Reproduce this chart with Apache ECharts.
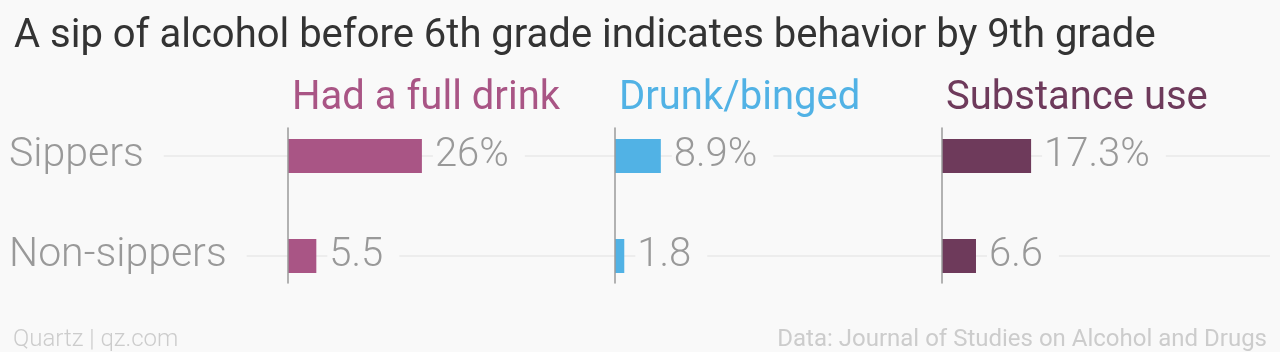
<!DOCTYPE html>
<html>
<head>
<meta charset="utf-8">
<script src="https://cdn.jsdelivr.net/npm/echarts@6/dist/echarts.min.js"></script>
<style>
  html, body { margin: 0; padding: 0; background: #f9f9f9; }
  #chart { width: 1280px; height: 352px; }
</style>
</head>
<body>
<div id="chart"></div>
<script>
// data
const categories = ['Sippers', 'Non-sippers'];
const panelTitles = ['Had a full drink', 'Drunk/binged', 'Substance use'];
const fullDrink = [26, 5.5];
const drunkBinged = [8.9, 1.8];
const substanceUse = [17.3, 6.6];

const panelData = [fullDrink, drunkBinged, substanceUse];
const panelColors = ['#a95585', '#51b2e5', '#6e3a5b'];
const panelLeft = [288, 615, 942];
const FONT = 'Roboto, "Noto Sans", sans-serif';

const grids = [{left: 163, right: 10, top: 156, height: 100}];
const xAxes = [{gridIndex: 0, type: 'value', show: false, min: 0, max: 1}];
const yAxes = [
    // gridlines behind everything
    {gridIndex: 0, type: 'category', data: categories, inverse: true, boundaryGap: false, z: 0,
        position: 'left',
        axisLine: {show: false}, axisTick: {show: false}, axisLabel: {show: false},
        splitLine: {show: true, lineStyle: {color: '#e9e9e9', width: 1.5}}},
    // row labels, drawn over the gridlines
    {gridIndex: 0, type: 'category', data: categories, inverse: true, boundaryGap: false, z: 5,
        position: 'left', offset: 0,
        axisLine: {show: false}, axisTick: {show: false}, splitLine: {show: false},
        axisLabel: {interval: 0, align: 'left', margin: 154, fontSize: 41, fontWeight: 300,
            fontFamily: FONT, color: '#999', backgroundColor: '#f9f9f9', padding: [0, 20, 0, 0]}}
];

// bar grids
panelLeft.forEach((left, i) => {
    grids.push({left: left, width: 309, top: 106, height: 200});
    xAxes.push({gridIndex: i + 1, type: 'value', min: 0, max: 60, show: false});
    yAxes.push({gridIndex: i + 1, type: 'category', data: categories, inverse: true, show: false});
});
// vertical axis lines (shorter than the bar grid)
panelLeft.forEach((left, i) => {
    grids.push({left: left, width: 309, top: 128, height: 155});
    xAxes.push({gridIndex: i + 4, type: 'value', min: 0, max: 1, show: false});
    yAxes.push({gridIndex: i + 4, type: 'value', min: 0, max: 1, z: 3, position: 'left',
        axisLine: {show: true, onZero: false, lineStyle: {color: '#9a9a9a', width: 1.5}},
        axisTick: {show: false}, axisLabel: {show: false}, splitLine: {show: false}});
});

const series = panelData.map((values, i) => ({
    type: 'bar',
    name: panelTitles[i],
    xAxisIndex: i + 1,
    yAxisIndex: i + 2,
    data: values,
    barWidth: 34,
    itemStyle: {color: panelColors[i]},
    label: {
        show: true,
        position: 'right',
        distance: 11,
        fontSize: 40,
        fontWeight: 300,
        fontFamily: FONT,
        color: '#999',
        backgroundColor: '#f9f9f9',
        padding: [0, 16, 0, 2],
        formatter: p => p.dataIndex === 0 ? p.value + '%' : String(p.value)
    }
}));

const titles = [
    {text: 'A sip of alcohol before 6th grade indicates behavior by 9th grade', left: 9, top: 12,
        textStyle: {fontSize: 40, fontWeight: 'normal', fontFamily: FONT, color: '#333'}},
    {text: 'Quartz | qz.com', left: 8, top: 323,
        textStyle: {fontSize: 24, fontWeight: 300, fontFamily: FONT, color: '#cccccc'}},
    {text: 'Data: Journal of Studies on Alcohol and Drugs', right: 8, top: 323,
        textStyle: {fontSize: 24, fontWeight: 'normal', fontFamily: FONT, color: '#cccccc'}}
];
panelTitles.forEach((t, i) => {
    titles.push({text: t, left: panelLeft[i] - 1, top: 74,
        textStyle: {fontSize: 40, fontWeight: 'normal', fontFamily: FONT, color: panelColors[i]}});
});

const option = {
    backgroundColor: '#f9f9f9',
    animation: false,
    title: titles,
    grid: grids,
    xAxis: xAxes,
    yAxis: yAxes,
    series: series
};

const chart = echarts.init(document.getElementById('chart'));
chart.setOption(option);
</script>
</body>
</html>
